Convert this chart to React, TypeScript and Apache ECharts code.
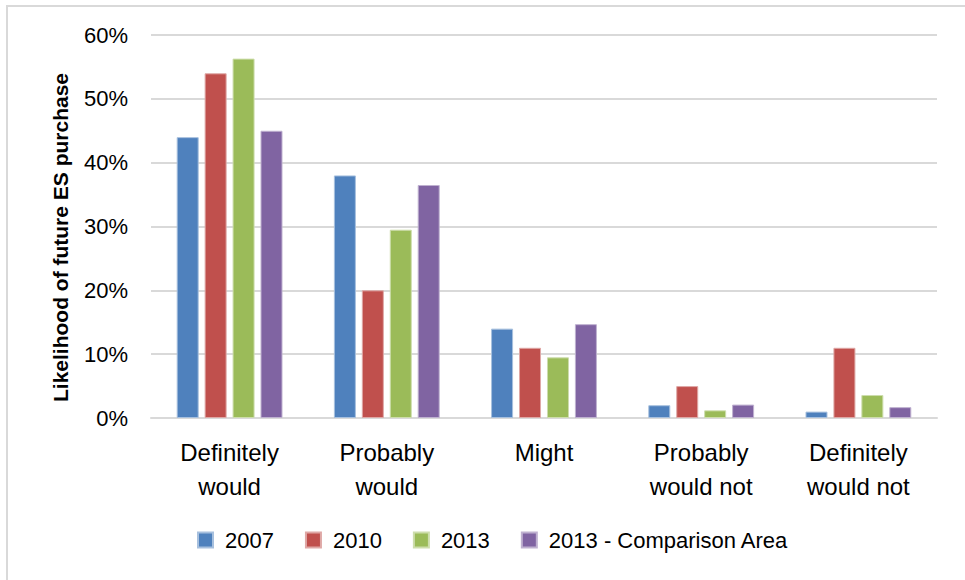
import React, { useEffect, useRef } from "react";
import * as echarts from "echarts";

const categories = ["Definitely\nwould", "Probably\nwould", "Might", "Probably\nwould not", "Definitely\nwould not"];
const seriesNames = ["2007", "2010", "2013", "2013 - Comparison Area"];
const values2007 = [44.0, 38.0, 14.0, 2.0, 1.0];
const values2010 = [54.0, 20.0, 11.0, 5.0, 11.0];
const values2013 = [56.3, 29.5, 9.5, 1.2, 3.6];
const valuesComparison = [45.0, 36.5, 14.7, 2.1, 1.7];
const yTicks = [0, 10, 20, 30, 40, 50, 60];
const colors = ["#4F81BD", "#C0504D", "#9BBB59", "#8064A2"];
const borders = ["#A7C0DE", "#DFA8A6", "#CDDDAC", "#BFB1D0"];

const FONT = "'Liberation Sans', Arial, sans-serif";

export default function App() {
  const ref = useRef<HTMLDivElement>(null);
  useEffect(() => {
    if (!ref.current) return;
    const chart = echarts.init(ref.current, null, { renderer: "svg" });
    const data = [values2007, values2010, values2013, valuesComparison];
    chart.setOption({
      animation: false,
      textStyle: { fontFamily: FONT },
      grid: { left: 151, right: 28, top: 35, bottom: 162, containLabel: false },
      legend: {
        bottom: 24,
        left: 192,
        itemWidth: 15,
        itemHeight: 15,
        itemGap: 31,
        icon: "rect",
        textStyle: { fontSize: 22, color: "#000", fontFamily: FONT, padding: [0, 0, 0, 7] },
        data: seriesNames,
      },
      xAxis: {
        type: "category",
        data: categories,
        axisLine: { lineStyle: { color: "#D9D9D9", width: 2 } },
        axisTick: { show: false },
        axisLabel: { fontSize: 24, color: "#000", lineHeight: 34, margin: 17, interval: 0, fontFamily: FONT },
      },
      yAxis: {
        type: "value",
        min: yTicks[0],
        max: yTicks[yTicks.length - 1],
        interval: 10,
        name: "Likelihood of future ES purchase",
        nameLocation: "middle",
        nameGap: 80,
        nameTextStyle: { fontSize: 21, fontWeight: "bold", color: "#000", fontFamily: FONT, padding: [0, 22, 0, 0] },
        axisLine: { show: false },
        axisTick: { show: false },
        axisLabel: { fontSize: 22, color: "#000", margin: 23, formatter: (v: number) => v + "%", fontFamily: FONT },
        splitLine: { lineStyle: { color: "#D9D9D9", width: 2 } },
      },
      series: seriesNames.map((name, i) => ({
        name,
        type: "bar",
        data: data[i],
        barWidth: 22,
        barGap: "27%",
        itemStyle: { color: colors[i], borderColor: borders[i], borderWidth: 1 },
      })),
    });
    return () => chart.dispose();
  }, []);
  return (
    <div style={{ position: "absolute", left: 0, top: 0, width: 965, height: 580, background: "#fff" }}>
      <div
        style={{
          position: "absolute",
          left: 6,
          top: 5,
          width: 965,
          height: 580,
          borderLeft: "2px solid #D9D9D9",
          borderTop: "2px solid #D9D9D9",
        }}
      />
      <div ref={ref} style={{ position: "absolute", left: 0, top: 0, width: 965, height: 580 }} />
    </div>
  );
}
